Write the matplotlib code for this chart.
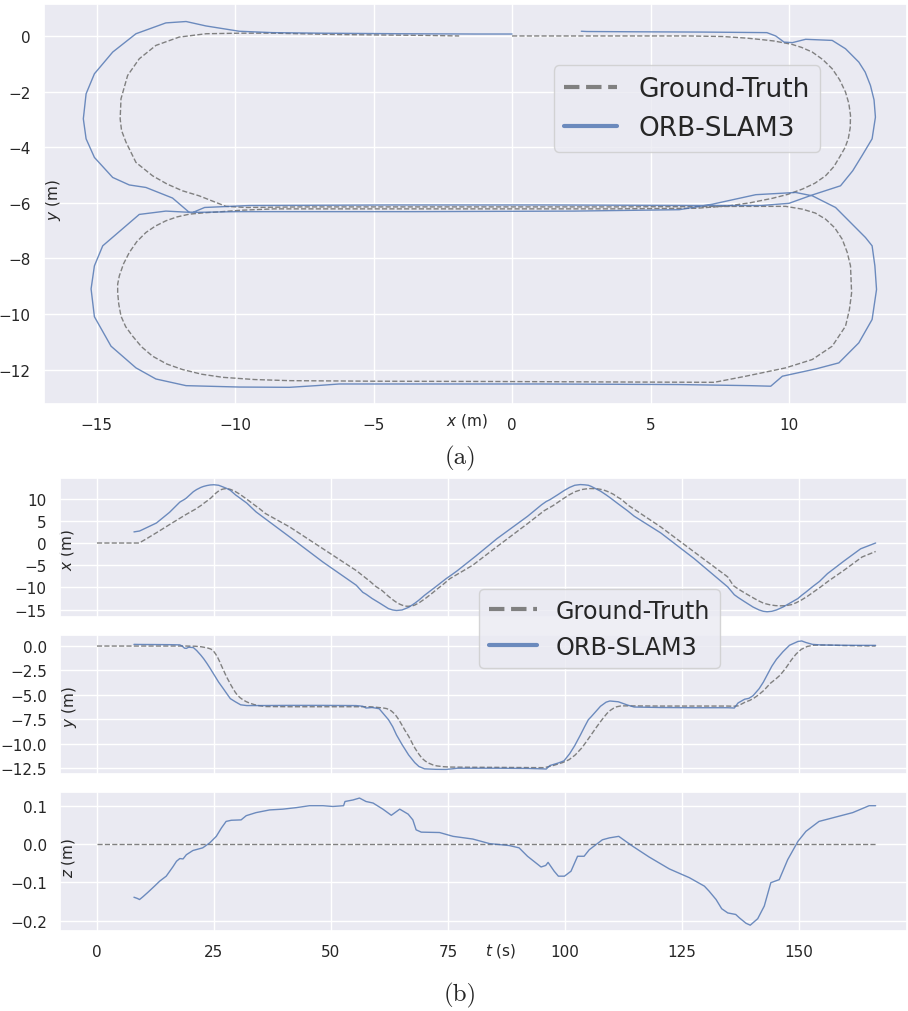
import matplotlib
matplotlib.use("Agg")
import matplotlib.pyplot as plt
import seaborn as sns

# ---------------- data ----------------
# Ground-truth trajectory: time (s), x (m), y (m)
t_gt = [0.0, 9.0, 10.5, 13.0, 16.2, 19.0, 21.0, 22.3, 22.9, 23.5, 24.3, 24.65,
        25.0, 25.4, 25.8, 26.2, 26.6, 27.0, 27.4, 27.85, 28.3, 28.65, 29.0,
        29.5, 30.0, 30.6, 31.2, 31.9, 32.6, 33.6, 34.6, 36.0, 41.2, 48.3, 55.4,
        58.3, 59.6, 60.8, 61.35, 61.9, 62.4, 62.9, 63.35, 63.8, 64.3, 64.8,
        65.3, 65.8, 66.2, 66.6, 67.05, 67.5, 67.95, 68.4, 68.95, 69.5, 70.2,
        70.9, 71.75, 72.6, 74.0, 75.4, 80.3, 85.5, 92.0, 95.6, 97.5, 99.5,
        100.9, 102.2, 103.6, 104.5, 105.4, 106.8, 107.55, 108.3, 109.0, 109.7,
        110.4, 111.0, 112.0, 113.6, 120.5, 127.6, 134.8, 136.0, 137.0, 138.5,
        139.5, 140.4, 141.3, 142.5, 143.9, 145.0, 146.0, 147.2, 148.4, 149.4,
        150.5, 151.8, 153.1, 154.7, 156.2, 159.5, 163.5, 166.4]
gt_x = [0.0, 0.0, 0.9, 2.5, 4.6, 6.4, 7.6, 8.5, 9.0, 9.45, 10.1, 10.45, 10.84,
        11.22, 11.56, 11.83, 12.04, 12.16, 12.22, 12.21, 12.14, 12.02, 11.86,
        11.62, 11.32, 10.93, 10.48, 9.95, 9.4, 8.6, 7.84, 6.64, 3.6, -1.3,
        -6.2, -8.6, -9.8, -10.6, -11.1, -11.65, -12.1, -12.5, -12.88, -13.22,
        -13.55, -13.82, -14.03, -14.18, -14.24, -14.24, -14.2, -14.12, -13.95,
        -13.7, -13.38, -12.98, -12.47, -11.9, -11.2, -10.45, -9.3, -8.04,
        -5.0, -0.8, 4.35, 7.3, 8.44, 9.88, 10.84, 11.56, 12.04, 12.18, 12.26,
        12.22, 12.1, 11.92, 11.65, 11.32, 10.95, 10.48, 9.88, 8.44, 3.6, -2.0,
        -7.65, -9.6, -10.33, -11.3, -11.9, -12.45, -12.98, -13.58, -13.94,
        -14.1, -14.15, -14.12, -13.88, -13.46, -12.86, -12.02, -11.05, -9.85,
        -8.65, -6.24, -3.15, -1.91]
gt_y = [0.0, 0.0, 0.0, 0.0, 0.0, 0.0, -0.02, -0.08, -0.13, -0.18, -0.3, -0.41,
        -0.58, -0.85, -1.18, -1.58, -2.02, -2.43, -2.86, -3.3, -3.7, -4.02,
        -4.3, -4.7, -5.03, -5.3, -5.51, -5.7, -5.84, -6.0, -6.11, -6.2, -6.22,
        -6.22, -6.22, -6.22, -6.27, -6.33, -6.36, -6.41, -6.51, -6.65, -6.84,
        -7.07, -7.4, -7.79, -8.2, -8.63, -8.93, -9.24, -9.65, -10.08, -10.46,
        -10.8, -11.18, -11.52, -11.8, -12.0, -12.17, -12.28, -12.36, -12.4,
        -12.42, -12.43, -12.45, -12.46, -12.24, -11.94, -11.64, -11.16,
        -10.44, -9.85, -9.24, -8.27, -7.78, -7.31, -6.9, -6.59, -6.37, -6.23,
        -6.13, -6.13, -6.15, -6.15, -6.15, -6.17, -6.13, -5.75, -5.57, -5.33,
        -5.03, -4.55, -3.82, -3.4, -2.98, -2.26, -1.42, -0.82, -0.34, -0.04,
        0.08, 0.1, 0.1, 0.05, 0.02, 0.0]
t_gt_z = [0.0, 166.4]
gt_z = [0.0, 0.0]

# ORB-SLAM3 estimate: time (s), x (m), y (m)
t_est = [7.9, 9.1, 12.7, 15.5, 17.7, 18.2, 18.7, 19.1, 19.6, 20.6, 21.3, 22.2,
         22.8, 23.5, 24.2, 25.0, 26.0, 26.9, 27.7, 28.5, 29.6, 30.7, 32.0,
         34.0, 41.2, 48.3, 55.4, 56.8, 57.5, 58.8, 60.3, 62.3, 63.2, 64.0,
         65.2, 66.6, 67.9, 68.8, 70.0, 72.4, 74.6, 75.9, 77.0, 81.0, 85.5,
         92.0, 95.0, 96.0, 96.8, 98.6, 99.8, 101.0, 102.1, 103.3, 104.2, 105.0,
         105.6, 107.6, 108.8, 109.6, 111.4, 113.4, 114.8, 120.5, 127.6, 134.8,
         136.2, 137.0, 138.4, 139.3, 140.2, 141.5, 142.4, 143.2, 144.2, 145.2,
         146.6, 148.0, 149.8, 150.6, 151.5, 152.9, 154.4, 156.1, 159.7, 163.2,
         166.4]
est_x = [2.5, 2.7, 4.5, 6.9, 9.2, 9.52, 9.82, 10.12, 10.6, 11.56, 12.04, 12.52,
         12.75, 12.94, 13.07, 13.12, 13.0, 12.64, 12.3, 11.86, 10.84, 10.0,
         9.0, 7.0, 1.35, -4.3, -9.5, -11.1, -11.53, -12.5, -13.46, -14.78,
         -15.08, -15.2, -15.08, -14.48, -13.58, -12.86, -11.77, -9.85, -8.04,
         -7.08, -6.24, -2.9, 1.0, 6.0, 8.6, 9.34, 9.76, 10.96, 11.8, 12.52,
         13.0, 13.16, 13.1, 13.0, 12.76, 11.68, 10.84, 10.24, 8.8, 7.24, 6.04,
         2.25, -3.5, -9.9, -11.65, -12.26, -13.22, -13.82, -14.42, -15.08,
         -15.38, -15.48, -15.38, -15.08, -14.42, -13.58, -12.5, -11.77, -11.05,
         -9.85, -8.65, -6.9, -4.0, -1.3, 0.0]
est_y = [0.17, 0.16, 0.15, 0.14, 0.12, 0.0, -0.22, -0.24, -0.12, -0.16, -0.46,
         -0.94, -1.3, -1.78, -2.3, -2.92, -3.7, -4.3, -4.85, -5.39, -5.72,
         -6.02, -6.1, -6.1, -6.08, -6.08, -6.1, -6.17, -6.35, -6.3, -6.42,
         -7.55, -8.27, -9.1, -10.1, -11.16, -11.94, -12.34, -12.58, -12.63,
         -12.64, -12.58, -12.52, -12.52, -12.52, -12.54, -12.58, -12.6, -12.24,
         -11.98, -11.76, -11.04, -10.2, -9.12, -8.27, -7.55, -7.25, -6.17,
         -5.75, -5.63, -5.71, -6.05, -6.25, -6.3, -6.32, -6.32, -6.35, -5.83,
         -5.45, -5.36, -5.09, -4.37, -3.7, -2.98, -2.08, -1.36, -0.58, 0.08,
         0.47, 0.52, 0.36, 0.17, 0.12, 0.1, 0.08, 0.07, 0.07]

# ORB-SLAM3 estimate: height z (m)
t_est_z = [7.9, 8.6, 9.1, 9.8, 10.9, 12.3, 13.4, 14.8, 16.2, 17.0, 17.7, 18.4,
           19.1, 20.5, 22.6, 24.1, 25.5, 26.6, 27.6, 28.7, 30.8, 31.9, 34.0,
           36.9, 39.7, 42.6, 45.4, 48.3, 50.4, 52.7, 53.0, 54.7, 56.1, 57.5,
           59.0, 61.1, 62.9, 64.7, 66.5, 67.5, 68.2, 69.3, 73.2, 76.1, 80.3,
           83.9, 88.1, 90.2, 92.0, 94.9, 95.9, 96.4, 97.7, 98.6, 99.9, 101.3,
           102.7, 104.1, 105.2, 108.0, 109.5, 111.5, 113.0, 114.5, 118.0, 122.3,
           126.6, 129.8, 130.8, 132.3, 133.5, 134.8, 136.5, 137.3, 138.7, 139.6,
           141.2, 142.6, 144.0, 145.8, 147.6, 149.8, 151.5, 154.3, 156.5, 161.5,
           165.0, 166.4]
est_z = [-0.139, -0.142, -0.145, -0.138, -0.126, -0.110, -0.097, -0.084,
         -0.060, -0.045, -0.038, -0.039, -0.028, -0.017, -0.010, 0.003, 0.020,
         0.042, 0.059, 0.062, 0.063, 0.074, 0.082, 0.089, 0.091, 0.095, 0.100,
         0.100, 0.098, 0.100, 0.111, 0.115, 0.120, 0.111, 0.107, 0.091, 0.075,
         0.091, 0.078, 0.063, 0.037, 0.031, 0.030, 0.020, 0.013, 0.001, -0.004,
         -0.010, -0.032, -0.060, -0.056, -0.048, -0.071, -0.084, -0.084,
         -0.071, -0.032, -0.032, -0.015, 0.011, 0.016, 0.020, 0.007, -0.006,
         -0.034, -0.065, -0.088, -0.110, -0.123, -0.145, -0.169, -0.180,
         -0.184, -0.193, -0.207, -0.212, -0.195, -0.162, -0.101, -0.093,
         -0.041, 0.007, 0.033, 0.059, 0.066, 0.082, 0.100, 0.100]

series_names = ["Ground-Truth", "ORB-SLAM3"]

# ---------------- style ----------------
sns.set_theme(style="darkgrid")
plt.rcParams["font.family"] = ["DejaVu Sans"]
plt.rcParams["xtick.labelsize"] = 11
plt.rcParams["ytick.labelsize"] = 11
plt.rcParams["axes.labelsize"] = 11

GT_KW = dict(color="gray", linestyle="--", linewidth=1.0)
EST_KW = dict(color="#4C72B0", linewidth=1.0, alpha=0.8)

W, H = 908, 1012
fig = plt.figure(figsize=(W / 100, H / 100), dpi=100)


def box(left, top, right, bottom):
    return [left / W, 1 - bottom / H, (right - left) / W, (bottom - top) / H]


# ---------------- (a) top view ----------------
ax = fig.add_axes(box(44, 5, 907, 405))
ax.plot(gt_x, gt_y, label=series_names[0], **GT_KW)
ax.plot(est_x, est_y, label=series_names[1], **EST_KW)
ax.set_xlim(-16.9, 14.26)
ax.set_ylim(-13.24, 1.15)
ax.set_xticks([-15, -10, -5, 0, 5, 10])
ax.set_yticks([-12, -10, -8, -6, -4, -2, 0])
ax.set_xlabel("$x$ (m)")
ax.set_ylabel("$y$ (m)")
ax.xaxis.set_label_coords(0.49, -0.0175)
ax.yaxis.set_label_coords(0.0224, 0.5125)
leg = ax.legend(fontsize=19, loc="center", bbox_to_anchor=(0.745, 0.739))
for ln in leg.get_lines():
    ln.set_linewidth(3)

fig.text(460 / W, 1 - 458 / H, "(a)", ha="center", va="center",
         fontsize=18, family="cmr10")

# ---------------- (b) time series ----------------
ax1 = fig.add_axes(box(60, 479.3, 907, 618.3))
ax2 = fig.add_axes(box(60, 636, 907, 775), sharex=ax1)
ax3 = fig.add_axes(box(60, 792.7, 907, 931.7), sharex=ax1)

ax1.plot(t_gt, gt_x, **GT_KW)
ax1.plot(t_est, est_x, **EST_KW)
ax2.plot(t_gt, gt_y, **GT_KW)
ax2.plot(t_est, est_y, **EST_KW)
ax3.plot(t_gt_z, gt_z, **GT_KW)
ax3.plot(t_est_z, est_z, **EST_KW)

ax1.set_xlim(-7.9, 173.1)
ax3.set_xticks([0, 25, 50, 75, 100, 125, 150])
ax1.set_ylim(-16.73, 14.57)
ax1.set_yticks([-15, -10, -5, 0, 5, 10])
ax2.set_ylim(-13.11, 1.13)
ax2.set_yticks([-12.5, -10.0, -7.5, -5.0, -2.5, 0.0])
ax2.set_yticklabels(["−12.5", "−10.0", "−7.5", "−5.0", "−2.5", "0.0"])
ax3.set_ylim(-0.2264, 0.1366)
ax3.set_yticks([-0.2, -0.1, 0.0, 0.1])
ax3.set_yticklabels(["−0.2", "−0.1", "0.0", "0.1"])
for a in (ax1, ax2):
    a.tick_params(labelbottom=False)

ax1.set_ylabel("$x$ (m)")
ax2.set_ylabel("$y$ (m)")
ax3.set_ylabel("$z$ (m)")
ax1.yaxis.set_label_coords(0.019, 0.49)
ax2.yaxis.set_label_coords(0.022, 0.49)
ax3.yaxis.set_label_coords(0.020, 0.534)
ax3.set_xlabel("$t$ (s)")
ax3.xaxis.set_label_coords(0.52, -0.074)

leg2 = fig.legend(ax1.get_lines(), series_names, fontsize=17.2, loc="center",
                  bbox_to_anchor=(599.5 / W, 1 - 629.7 / H),
                  facecolor="#EAEAF2", edgecolor="0.8", framealpha=0.8)
for ln in leg2.get_lines():
    ln.set_linewidth(3)

fig.text(460 / W, 1 - 995 / H, "(b)", ha="center", va="center",
         fontsize=18, family="cmr10")

fig.savefig("out.png", dpi=100)
